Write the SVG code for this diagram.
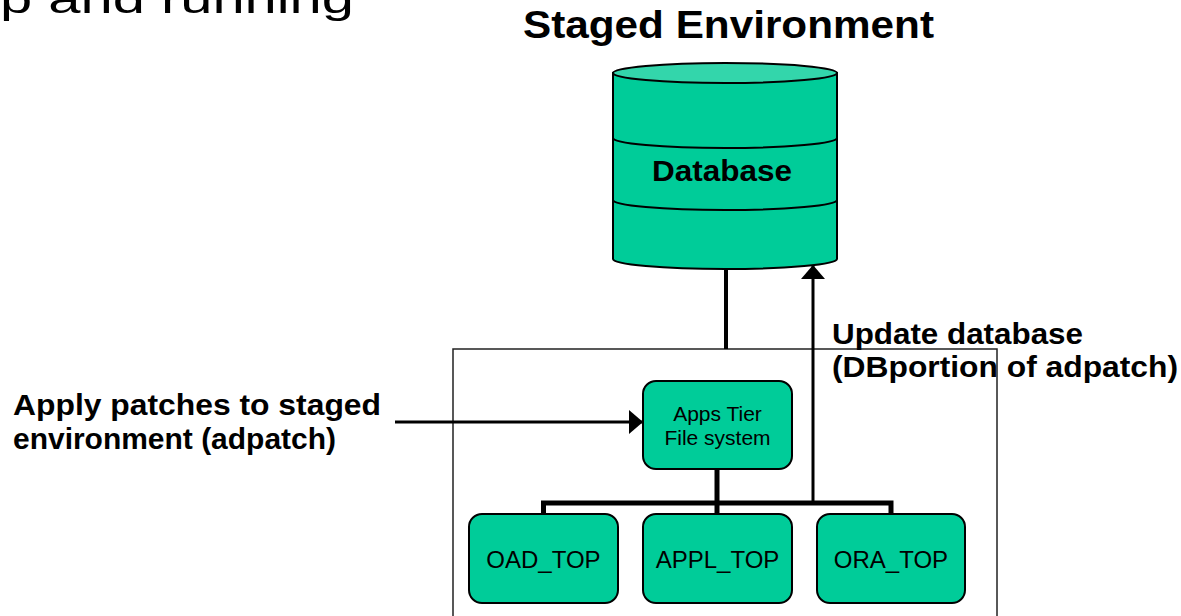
<svg xmlns="http://www.w3.org/2000/svg" width="1181" height="616" viewBox="0 0 1181 616">
  <style>
    .bold { font-family: "Liberation Sans", Arial, sans-serif; font-weight: bold; fill: #000; }
    .reg { font-family: "Liberation Sans", Arial, sans-serif; fill: #000; }
    .node { fill: #00cc99; stroke: #000; stroke-width: 2; }
    .wire { fill: none; stroke: #000; }
  </style>
  <defs>
    <marker id="head" viewBox="0 0 14 24" refX="14" refY="12" markerWidth="14" markerHeight="24" markerUnits="userSpaceOnUse" orient="auto">
      <path d="M0,0 L14,12 L0,24 Z" fill="#000"/>
    </marker>
  </defs>

  <rect width="1181" height="616" fill="#fff"/>

  <!-- slide heading remnant -->
  <text class="reg" x="0" y="13" font-size="40" textLength="354" lengthAdjust="spacingAndGlyphs">p and running</text>

  <!-- title -->
  <text class="bold" x="523" y="38" font-size="39" textLength="411" lengthAdjust="spacingAndGlyphs">Staged Environment</text>

  <!-- enclosing environment frame -->
  <rect x="453" y="349" width="544" height="280" fill="none" stroke="#222" stroke-width="1.5"/>

  <!-- database cylinder -->
  <g id="database">
    <path d="M613,73 V259 A112,10 0 0 0 837,259 V73 Z" fill="#00cc99" stroke="#000" stroke-width="2"/>
    <ellipse cx="725" cy="73" rx="112" ry="10" fill="#33d6ab" stroke="#000" stroke-width="2"/>
    <path d="M613,138 A112,10 0 0 0 837,138" fill="none" stroke="#000" stroke-width="2"/>
    <path d="M613,200 A112,10 0 0 0 837,200" fill="none" stroke="#000" stroke-width="2"/>
    <text class="bold" x="652" y="181" font-size="29" textLength="140" lengthAdjust="spacingAndGlyphs">Database</text>
  </g>

  <!-- connectors -->
  <g id="connectors">
    <line class="wire" x1="726" y1="269" x2="726" y2="349" stroke-width="4"/>
    <line class="wire" x1="813" y1="503" x2="813" y2="265" stroke-width="3" marker-end="url(#head)"/>
    <line class="wire" x1="395" y1="422" x2="643" y2="422" stroke-width="3" marker-end="url(#head)"/>
    <line class="wire" x1="717" y1="469" x2="717" y2="514" stroke-width="5"/>
    <path class="wire" d="M543.5,514 V503 H891 V514" stroke-width="5"/>
  </g>

  <g id="apps-tier">
    <rect class="node" x="643" y="381" width="149" height="88" rx="13"/>
    <text class="reg" x="717.5" y="421" font-size="21" text-anchor="middle">Apps Tier</text>
    <text class="reg" x="717.5" y="445" font-size="21" text-anchor="middle">File system</text>
  </g>

  <g id="oad-top">
    <rect class="node" x="469" y="514" width="149" height="89" rx="13"/>
    <text class="reg" x="543.5" y="568" font-size="24" text-anchor="middle">OAD_TOP</text>
  </g>

  <g id="appl-top">
    <rect class="node" x="643" y="514" width="149" height="89" rx="13"/>
    <text class="reg" x="717.5" y="568" font-size="24" text-anchor="middle">APPL_TOP</text>
  </g>

  <g id="ora-top">
    <rect class="node" x="817" y="514" width="148" height="89" rx="13"/>
    <text class="reg" x="891" y="568" font-size="24" text-anchor="middle">ORA_TOP</text>
  </g>

  <!-- edge labels -->
  <g id="label-apply">
    <text class="bold" x="13" y="415" font-size="30" textLength="368" lengthAdjust="spacingAndGlyphs">Apply patches to staged</text>
    <text class="bold" x="13" y="449" font-size="30" textLength="323" lengthAdjust="spacingAndGlyphs">environment (adpatch)</text>
  </g>
  <g id="label-update">
    <text class="bold" x="832" y="344" font-size="30" textLength="251" lengthAdjust="spacingAndGlyphs">Update database</text>
    <text class="bold" x="832" y="377" font-size="30" textLength="346" lengthAdjust="spacingAndGlyphs">(DBportion of adpatch)</text>
  </g>
</svg>
